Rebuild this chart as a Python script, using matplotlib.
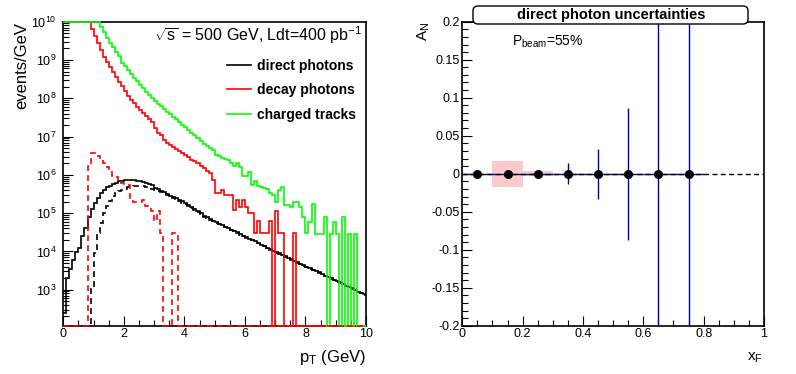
"""Direct photon pT spectra (left) and projected A_N uncertainties vs x_F (right)."""
import numpy as np
import matplotlib
matplotlib.use("Agg")
import matplotlib.pyplot as plt
from matplotlib.lines import Line2D
from matplotlib.patches import FancyBboxPatch
from matplotlib.ticker import (FixedLocator, MultipleLocator, FuncFormatter,
                               LogLocator, NullFormatter)

plt.rcParams["font.family"] = ["Liberation Sans", "DejaVu Sans"]
plt.rcParams["mathtext.fontset"] = "custom"
plt.rcParams["mathtext.rm"] = "Liberation Sans"
plt.rcParams["mathtext.it"] = "Liberation Sans:italic"
plt.rcParams["mathtext.bf"] = "Liberation Sans:bold"
plt.rcParams["axes.unicode_minus"] = False

# ---- left panel: log10(events/GeV) in 0.1 GeV bins, 0..10 GeV (0 = empty bin)
PT_EDGES = np.linspace(0.0, 10.0, 101)

direct_all = [
    2.38, 3.30, 3.55, 3.78, 3.99, 4.10, 4.40, 4.62, 4.90, 5.12,
    5.26, 5.40, 5.52, 5.60, 5.67, 5.72, 5.76, 5.80, 5.83, 5.85,
    5.86, 5.87, 5.87, 5.86, 5.85, 5.84, 5.82, 5.80, 5.77, 5.74,
    5.65, 5.62, 5.58, 5.54, 5.50, 5.46, 5.42, 5.39, 5.35, 5.31,
    5.26, 5.21, 5.15, 5.10, 5.05, 5.00, 4.93, 4.89, 4.84, 4.80,
    4.76, 4.72, 4.68, 4.64, 4.60, 4.56, 4.53, 4.50, 4.45, 4.41,
    4.37, 4.33, 4.29, 4.26, 4.22, 4.18, 4.14, 4.10, 4.06, 4.02,
    3.98, 3.96, 3.91, 3.87, 3.83, 3.79, 3.75, 3.73, 3.68, 3.64,
    3.60, 3.56, 3.52, 3.49, 3.46, 3.41, 3.37, 3.33, 3.30, 3.26,
    3.22, 3.19, 3.14, 3.11, 3.07, 3.04, 2.99, 2.95, 2.92, 2.88,
]
direct_iso = [
    0, 0, 0, 0, 0, 0, 0, 0, 0, 3.08,
    3.96, 4.48, 4.74, 5.00, 5.18, 5.31, 5.44, 5.52, 5.57, 5.60,
    5.64, 5.67, 5.69, 5.70, 5.71, 5.71, 5.70, 5.69, 5.67, 5.64,
    5.61, 5.58, 5.55, 5.51, 5.47, 5.43, 5.39, 5.35, 5.31, 5.27,
    5.23, 5.18, 5.13, 5.08, 5.03, 4.98, 4.91, 4.87, 4.83, 4.79,
    4.75, 4.71, 4.68, 4.63, 4.59, 4.55, 4.52, 4.48, 4.44, 4.40,
    4.36, 4.32, 4.29, 4.24, 4.21, 4.17, 4.13, 4.09, 4.05, 4.01,
    3.97, 3.94, 3.90, 3.86, 3.82, 3.78, 3.74, 3.71, 3.67, 3.63,
    3.59, 3.55, 3.52, 3.48, 3.44, 3.40, 3.36, 3.32, 3.29, 3.25,
    3.21, 3.17, 3.13, 3.10, 3.06, 3.02, 2.98, 2.94, 2.91, 2.87,
]
decay_all = [
    10.5, 10.5, 10.5, 10.5, 10.5, 10.5, 10.5, 10.5, 10.5, 9.81,
    9.63, 9.45, 9.27, 9.09, 8.94, 8.81, 8.68, 8.55, 8.43, 8.31,
    8.19, 8.07, 7.96, 7.87, 7.78, 7.70, 7.62, 7.54, 7.46, 7.38,
    7.22, 7.10, 7.04, 6.92, 6.84, 6.79, 6.73, 6.68, 6.62, 6.57,
    6.51, 6.46, 6.40, 6.35, 6.30, 6.24, 6.18, 6.10, 6.05, 5.87,
    5.52, 5.52, 5.61, 5.48, 5.48, 5.48, 5.09, 5.35, 5.17, 5.35,
    5.17, 5.00, 5.00, 4.48, 4.79, 4.48, 4.48, 4.48, 4.79, 0,
    5.06, 4.48, 4.48, 0, 0, 0, 4.48, 0, 0, 0,
    0, 0, 0, 0, 0, 0, 0, 0, 0, 0,
    0, 0, 0, 0, 0, 0, 0, 0, 0, 0,
]
decay_iso = [
    0, 0, 0, 0, 0, 0, 0, 0, 6.24, 6.58,
    6.56, 6.50, 6.44, 6.30, 6.20, 6.10, 5.98, 5.95, 5.84, 5.78,
    5.74, 5.74, 5.31, 5.29, 5.29, 5.29, 5.35, 5.18, 5.10, 5.05,
    4.79, 5.05, 4.48, 0, 0, 0, 4.48, 4.48, 0, 0,
    0, 0, 0, 0, 0, 0, 0, 0, 0, 0,
    0, 0, 0, 0, 0, 0, 0, 0, 0, 0,
    0, 0, 0, 0, 0, 0, 0, 0, 0, 0,
    0, 0, 0, 0, 0, 0, 0, 0, 0, 0,
    0, 0, 0, 0, 0, 0, 0, 0, 0, 0,
    0, 0, 0, 0, 0, 0, 0, 0, 0, 0,
]
charged = [
    10.5, 10.5, 10.5, 10.5, 10.5, 10.5, 10.5, 10.5, 10.5, 10.5,
    10.5, 10.5, 9.87, 9.72, 9.58, 9.45, 9.33, 9.21, 9.10, 8.93,
    8.83, 8.73, 8.63, 8.53, 8.44, 8.35, 8.26, 8.17, 8.08, 8.00,
    7.93, 7.86, 7.79, 7.72, 7.65, 7.58, 7.52, 7.45, 7.38, 7.31,
    7.24, 7.17, 7.10, 7.03, 6.96, 6.88, 6.80, 6.76, 6.70, 6.64,
    6.52, 6.50, 6.45, 6.42, 6.39, 6.30, 6.22, 6.30, 6.20, 5.98,
    5.96, 6.08, 5.74, 5.83, 5.70, 5.68, 5.65, 5.62, 5.52, 5.48,
    5.30, 5.61, 5.69, 5.21, 5.21, 5.17, 5.30, 5.30, 5.17, 4.91,
    4.48, 4.78, 5.23, 4.45, 4.45, 4.45, 4.91, 0, 4.45, 4.78,
    4.45, 0, 4.91, 0, 4.45, 0, 4.45, 0, 0, 0,
]
legend_labels = ["direct photons", "decay photons", "charged tracks"]

# ---- right panel: projected A_N at x_F bin centres
xf = [0.05, 0.15, 0.25, 0.35, 0.45, 0.55, 0.65, 0.75]
an = [0, 0, 0, 0, 0, 0, 0, 0]
an_stat = [0.001, 0.0015, 0.003, 0.0135, 0.033, 0.087, 0.35, 0.5]
sys_x = [0.15, 0.25]
sys_err = [0.017, 0.0035]

YMIN, YMAX = 115.0, 1e10
BLUE = "#0000a0"
PINK = "#fbcaca"
DASH = (0, (3.5, 2.5))


def draw_hist(ax, logv, **kw):
    lv = np.asarray(logv, dtype=float)
    v = np.where(lv > 0, 10.0 ** lv, 0.0)
    v = np.clip(v, YMIN, YMAX)
    ax.stairs(v, PT_EDGES, baseline=None, clip_on=False, zorder=3,
              linewidth=1.2, **kw)


def root_axes(ax):
    for s in ax.spines.values():
        s.set_linewidth(1.2)
    ax.tick_params(which="both", direction="in", top=False, right=False,
                   width=0.8, labelsize=9, pad=2)
    ax.tick_params(which="major", length=7.5)
    ax.tick_params(which="minor", length=4)


fig = plt.figure(figsize=(7.96, 3.74), dpi=100)
axl = fig.add_axes([63.3 / 796, 48.3 / 374, 302.7 / 796, 304 / 374])
axr = fig.add_axes([462.3 / 796, 48.3 / 374, 301.7 / 796, 304 / 374])

# ---------------- left
axl.set_yscale("log")
axl.set_xlim(0, 10)
axl.set_ylim(YMIN, YMAX)
draw_hist(axl, direct_all, color="k")
draw_hist(axl, direct_iso, color="k", linestyle=DASH)
draw_hist(axl, decay_all, color="#ff0000")
draw_hist(axl, charged, color="#00ff00")
draw_hist(axl, decay_iso, color="#ff0000", linestyle=DASH)

root_axes(axl)
axl.xaxis.set_major_locator(MultipleLocator(2))
axl.xaxis.set_minor_locator(MultipleLocator(0.5))
axl.xaxis.set_major_formatter(FuncFormatter(lambda v, p: f"{v:g}"))
axl.yaxis.set_major_locator(FixedLocator([10.0 ** k for k in range(3, 11)]))
axl.yaxis.set_minor_locator(LogLocator(base=10, subs=np.arange(2, 10), numticks=20))
axl.yaxis.set_minor_formatter(NullFormatter())
axl.yaxis.set_major_formatter(FuncFormatter(lambda v, p: r"$10^{%d}$" % round(np.log10(v))))
axl.tick_params(axis="y", pad=5)

axl.text(-0.136, 1.0, "events/GeV", transform=axl.transAxes, rotation=90,
         rotation_mode="anchor", ha="right", va="center", fontsize=12)
axl.text(1.0, -0.105, r"p$_{\mathregular{T}}$ (GeV)", transform=axl.transAxes,
         ha="right", va="center", fontsize=12)
axl.text(0.987, 0.956, r"$\sqrt{\mathrm{s}}$ = 500 GeV, Ldt=400 pb$^{-1}$",
         transform=axl.transAxes, ha="right", va="center", fontsize=11.5)

handles = [Line2D([], [], color=c, lw=1.2) for c in ("k", "#ff0000", "#00ff00")]
axl.legend(handles, legend_labels, loc="upper left", bbox_to_anchor=(0.541, 0.878),
           frameon=False, prop={"weight": "bold", "size": 10}, handlelength=1.7,
           handletextpad=0.45, labelspacing=0.75, borderpad=0, borderaxespad=0)

# ---------------- right
axr.set_xlim(0, 1)
axr.set_ylim(-0.2, 0.2)
axr.bar(sys_x, [2 * e for e in sys_err], bottom=[-e for e in sys_err], width=0.1,
        color=PINK, linewidth=0, zorder=1)
axr.errorbar(xf, an, xerr=0.05, yerr=an_stat, fmt="none", ecolor=BLUE,
             elinewidth=1.0, capsize=0, zorder=2)
axr.axhline(0, color="k", linestyle=DASH, linewidth=1.0, zorder=3)
axr.plot(xf, an, "o", color="k", markersize=5.5, zorder=4)

root_axes(axr)
axr.xaxis.set_major_locator(MultipleLocator(0.2))
axr.xaxis.set_minor_locator(MultipleLocator(0.05))
axr.yaxis.set_major_locator(MultipleLocator(0.05))
axr.yaxis.set_minor_locator(MultipleLocator(0.01))
fmt = FuncFormatter(lambda v, p: f"{round(v, 3):g}")
axr.xaxis.set_major_formatter(fmt)
axr.yaxis.set_major_formatter(fmt)

axr.text(-0.127, 1.0, r"A$_{\mathregular{N}}$", transform=axr.transAxes, rotation=90,
         rotation_mode="anchor", ha="right", va="center", fontsize=11)
axr.text(0.997, -0.106, r"x$_{\mathregular{F}}$", transform=axr.transAxes,
         ha="right", va="center", fontsize=11)
axr.text(0.165, 0.921, r"P$_{\mathregular{beam}}$=55%", transform=axr.transAxes,
         ha="left", va="baseline", fontsize=10)

box = FancyBboxPatch((4.73, 3.50), 2.75, 0.18, boxstyle="round,pad=0,rounding_size=0.05",
                     transform=fig.dpi_scale_trans, facecolor="white",
                     edgecolor="k", linewidth=1.0, zorder=10)
fig.patches.append(box)
fig.text(610.8 / 796, 1 - 15 / 374, "direct photon uncertainties", ha="center",
         va="center", fontsize=10.5, fontweight="bold", zorder=11)

fig.savefig("out.png", dpi=100)
